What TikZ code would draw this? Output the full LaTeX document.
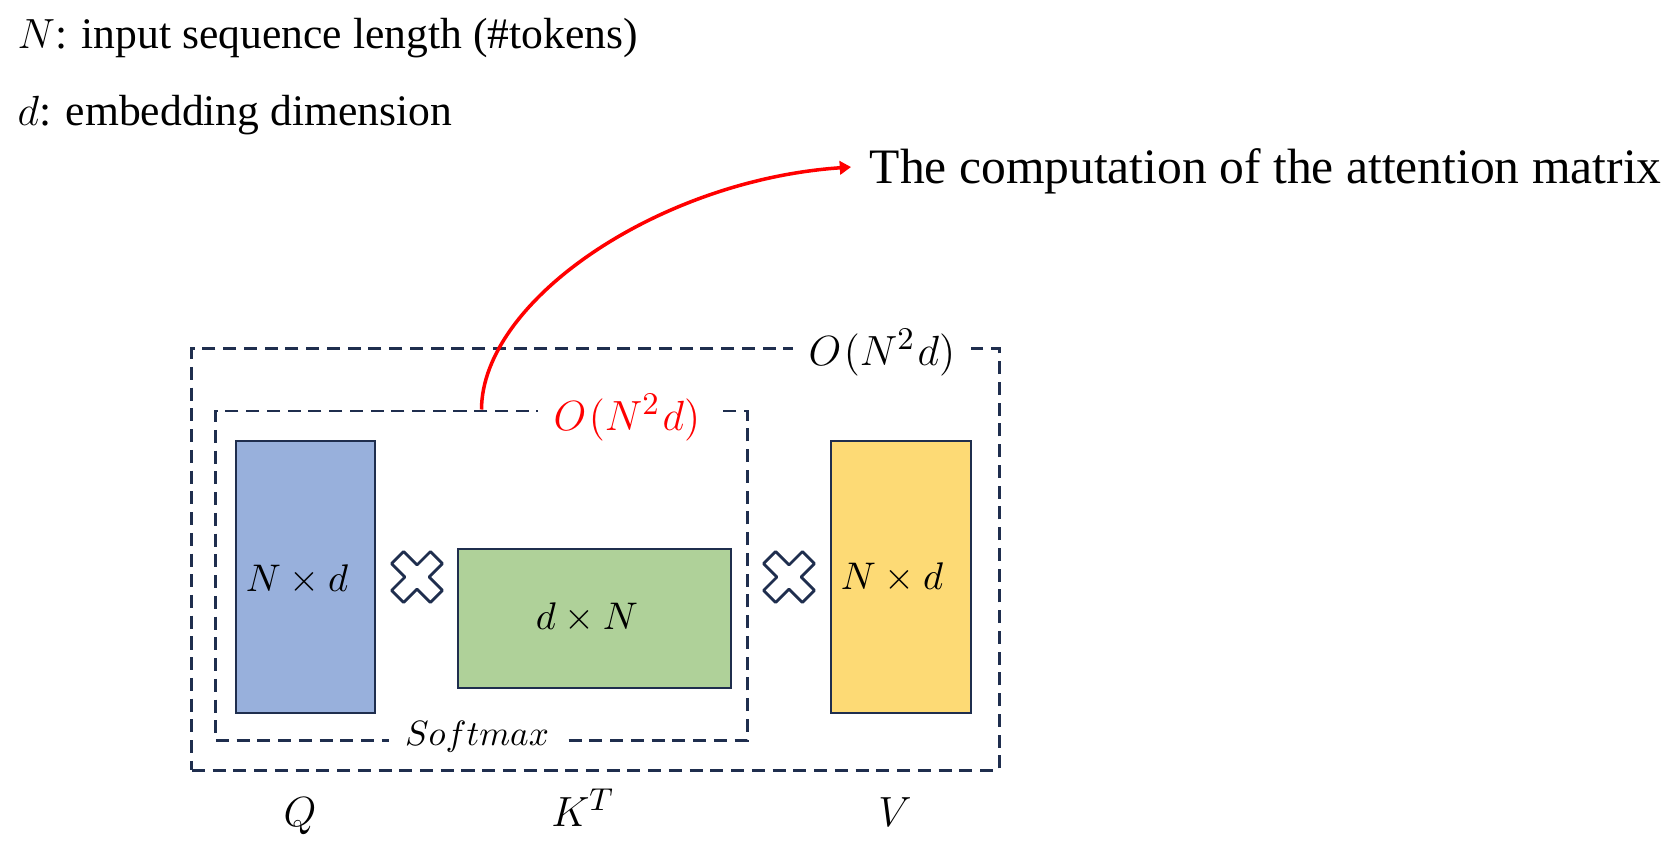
\documentclass[tikz,border=0pt]{standalone}
\usepackage{fontspec}
\setmainfont{Liberation Serif}
\usetikzlibrary{arrows.meta}

\definecolor{navy}{HTML}{1F2E4E}
\definecolor{qblue}{HTML}{98B0DC}
\definecolor{kgreen}{HTML}{AFD199}
\definecolor{vyellow}{HTML}{FDDA75}

\begin{document}
\begin{tikzpicture}[x=0.01cm, y=-0.01cm,
        every node/.style={inner sep=0pt},
        dashbox/.style={draw=navy, line width=0.8pt, dash pattern=on 3.7pt off 2.2pt},
        matbox/.style={draw=navy, line width=0.8pt},
        gaplabel/.style={fill=white, inner xsep=1.6mm, inner ysep=0.6mm},
        crossmark/.style={draw=navy, line width=0.8pt, fill=white, line join=round},
        attnarrow/.style={red, line width=1pt, -{Triangle[length=3.2pt,width=3.8pt]}}]
        \useasboundingbox (0,0) rectangle (1675,845);

        \node[anchor=base west, font=\fontsize{12.4}{14}\selectfont] (legN) at (17,48) {$N$: input sequence length (\#tokens)};
        \node[anchor=base west, font=\fontsize{12.4}{14}\selectfont] (legd) at (17,125) {$d$: embedding dimension};
        \node[anchor=base west, font=\fontsize{14.1}{16}\selectfont] (title) at (869,183) {The computation of the attention matrix};

        \node[dashbox, minimum width=80.7mm, minimum height=42.1mm] (outer) at (595.5,559.5) {};
        \node[dashbox, minimum width=53.1mm, minimum height=32.9mm] (inner) at (481.5,575.5) {};

        \node[matbox, fill=qblue, minimum width=13.9mm, minimum height=27.2mm] (qmat) at (305.5,577) {};
        \node[matbox, fill=kgreen, minimum width=27.3mm, minimum height=13.9mm] (kmat) at (594.5,618.5) {};
        \node[matbox, fill=vyellow, minimum width=14mm, minimum height=27.2mm] (vmat) at (901,577) {};
        \node[font=\fontsize{11}{13}\selectfont] (qdim) at (297,580) {$N\times d$};
        \node[font=\fontsize{11}{13}\selectfont] (kdim) at (587,618) {$d\times N$};
        \node[font=\fontsize{11}{13}\selectfont] (vdim) at (892,578) {$N\times d$};

        \foreach \cx in {417,789} {
            \draw[crossmark, shift={(\cx,577)}, rotate=45] (8.5,8.5) -- (27.5,8.5) -- (27.5,-8.5) -- (8.5,-8.5) -- (8.5,-27.5) -- (-8.5,-27.5) -- (-8.5,-8.5) -- (-27.5,-8.5) -- (-27.5,8.5) -- (-8.5,8.5) -- (-8.5,27.5) -- (8.5,27.5) -- cycle;
        }

        \node[gaplabel, anchor=base, font=\fontsize{13}{15}\selectfont] (outcost) at (882,365) {$O\mkern1mu(N^2\mkern1mu d)$};
        \node[gaplabel, anchor=base, text=red, font=\fontsize{13}{15}\selectfont] (incost) at (627,430) {$O\mkern1mu(N^2\mkern1mu d)$};
        \node[gaplabel, font=\fontsize{9.8}{11}\selectfont] (softmax) at (477,737) {$Softmax$};

        \node[anchor=base, font=\fontsize{13}{15}\selectfont] (qname) at (300,826) {$Q$};
        \node[anchor=base, font=\fontsize{13}{15}\selectfont] (kname) at (583,826) {$K^T$};
        \node[anchor=base, font=\fontsize{13}{15}\selectfont] (vname) at (895,826) {$V$};

        \draw[attnarrow, shorten >=1.8mm] (inner.north) .. controls (482,300) and (660,180) .. ([yshift=0.5mm]title.west);
    \end{tikzpicture}
\end{document}
